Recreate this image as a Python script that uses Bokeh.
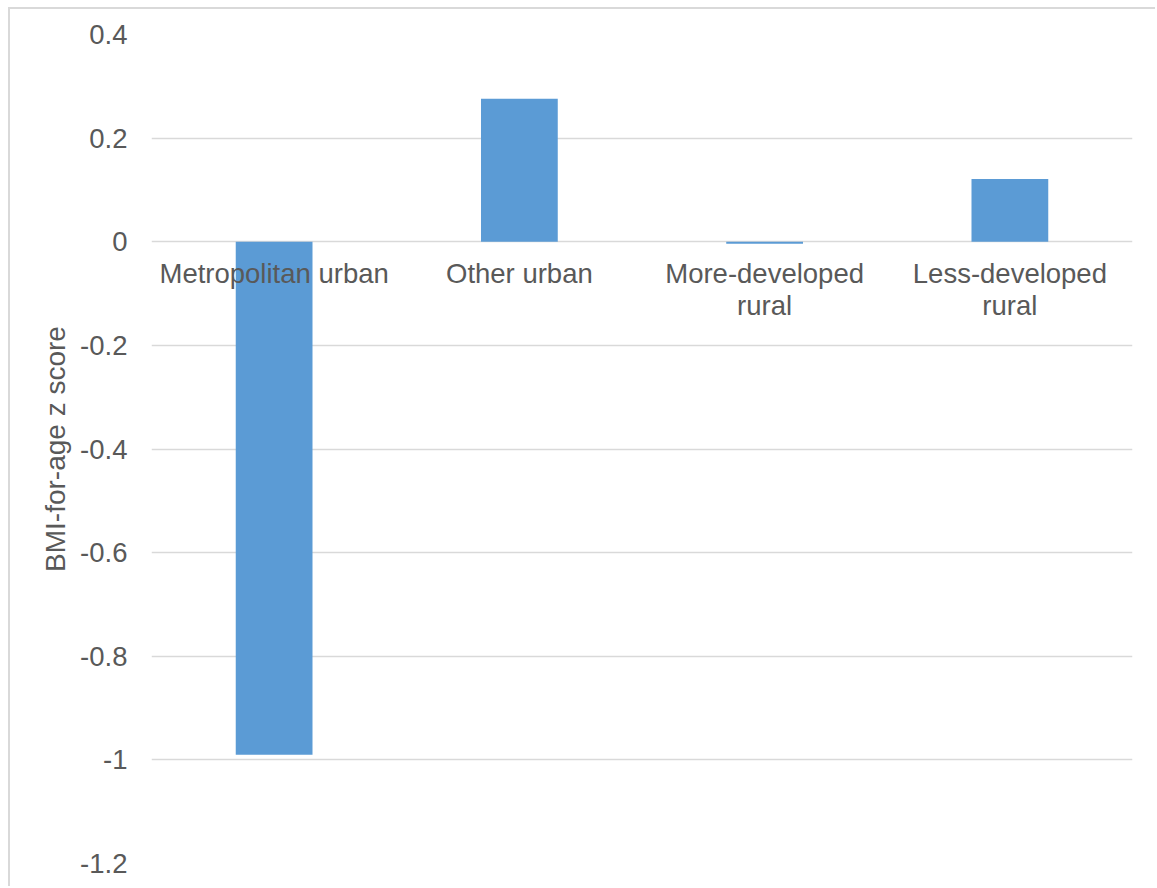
from bokeh.plotting import figure
from bokeh.models import FactorRange, Range1d, FixedTicker, ColumnDataSource
from bokeh.core.properties import value
from bokeh.embed import file_html
from bokeh.resources import INLINE

# Mean BMI-for-age z score by area type
categories = ["Metropolitan urban", "Other urban", "More-developed rural", "Less-developed rural"]
category_labels = ["Metropolitan urban", "Other urban", "More-developed\nrural", "Less-developed\nrural"]
z_scores = [-0.99, 0.276, -0.004, 0.121]
y_ticks = [-1.2, -1.0, -0.8, -0.6, -0.4, -0.2, 0.0, 0.2, 0.4]
y_tick_labels = {-1.2: "-1.2", -1.0: "-1", -0.8: "-0.8", -0.6: "-0.6", -0.4: "-0.4",
                 -0.2: "-0.2", 0.0: "0", 0.2: "0.2", 0.4: "0.4"}

FONT = "Liberation Sans"
TEXT = "#595959"
GRID = "#D9D9D9"
BAR = "#5B9BD5"

source = ColumnDataSource(dict(cat=categories, label=category_labels, z=z_scores,
                               zero=[0.0] * len(categories)))

p = figure(
    x_range=FactorRange(*categories, range_padding=0),
    y_range=Range1d(-1.2, 0.4),
    width=1147, height=879,
    output_backend="svg", toolbar_location=None,
    min_border_left=141, min_border_right=25, min_border_top=25, min_border_bottom=25,
)
p.margin = (7, 0, 0, 8)
p.styles = {"border-top": "2px solid #D9D9D9", "border-left": "2px solid #D9D9D9"}
p.outline_line_color = None
p.background_fill_color = "white"
p.border_fill_color = "white"

p.xaxis.visible = False
p.xgrid.visible = False

p.ygrid.ticker = FixedTicker(ticks=y_ticks)
p.ygrid.grid_line_color = GRID
p.ygrid.grid_line_width = 1.5

yax = p.yaxis[0]
yax.ticker = FixedTicker(ticks=y_ticks)
yax.major_label_overrides = y_tick_labels
yax.axis_line_color = None
yax.major_tick_line_color = None
yax.minor_tick_line_color = None
yax.major_tick_out = 0
yax.major_label_standoff = 24
yax.major_label_text_font = FONT
yax.major_label_text_font_size = "27.5px"
yax.major_label_text_color = TEXT
yax.axis_label = "BMI-for-age z score"
yax.axis_label_text_font = FONT
yax.axis_label_text_font_size = "28px"
yax.axis_label_text_font_style = "normal"
yax.axis_label_text_color = TEXT
yax.axis_label_standoff = 6

p.vbar(x="cat", top="z", bottom="zero", width=0.313, source=source,
       fill_color=BAR, line_color=None)

p.text(x="cat", y="zero", text="label", source=source,
       text_font=value(FONT), text_font_size="27.5px", text_color=TEXT,
       text_align="center", text_baseline="top", y_offset=16,
       text_line_height=1.05)

open("out.html", "w").write(file_html(p, INLINE))
